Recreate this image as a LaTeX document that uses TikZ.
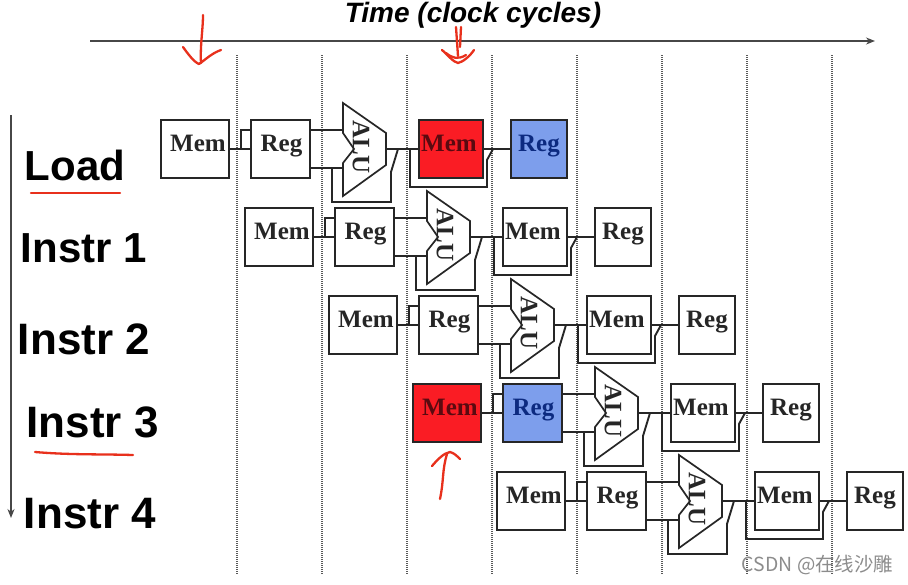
\documentclass[tikz,border=0pt]{standalone}
\usepackage{fontspec}
\setmainfont{Liberation Serif}
\newfontfamily\armfont{Liberation Sans}
\newfontfamily\cjkfont{Noto Sans CJK SC}
\usetikzlibrary{arrows.meta}
\definecolor{hot}{HTML}{FA1C24}
\definecolor{hotink}{HTML}{5A0A10}
\definecolor{cool}{HTML}{7D9EEC}
\definecolor{coolink}{HTML}{0C2A80}
\definecolor{ink}{HTML}{262626}
\definecolor{pen}{HTML}{E8301C}
\tikzset{
  box/.style={draw=ink,line width=2pt,inner sep=0pt,minimum height=58pt},
  lab/.style={font=\bfseries\fontsize{25}{25}\selectfont,yshift=6pt,xshift=#1,text height=17pt,text depth=0pt,inner sep=0pt},
  plainmemA/.style={box,fill=white,minimum width=68pt,label={[lab=3pt,text=ink]center:Mem}},
  hotmemA/.style={box,fill=hot,minimum width=68pt,label={[lab=3pt,text=hotink]center:Mem}},
  plainmemB/.style={box,fill=white,minimum width=64pt,label={[lab=-2pt,text=ink]center:Mem}},
  hotmemB/.style={box,fill=hot,minimum width=64pt,label={[lab=-2pt,text=hotink]center:Mem}},
  plainregA/.style={box,fill=white,minimum width=59pt,label={[lab=1pt,text=ink]center:Reg}},
  coolregA/.style={box,fill=cool,minimum width=59pt,label={[lab=1pt,text=coolink]center:Reg}},
  plainregB/.style={box,fill=white,minimum width=56pt,label={[lab=0pt,text=ink]center:Reg}},
  coolregB/.style={box,fill=cool,minimum width=56pt,label={[lab=0pt,text=coolink]center:Reg}},
  wire/.style={draw=ink,line width=1.9pt,line join=miter},
  alushape/.style={draw=ink,line width=1.7pt,fill=white,line join=miter},
  alutext/.style={font=\bfseries\fontsize{25}{25}\selectfont,rotate=-90,text=ink,inner sep=0pt},
  grid/.style={draw=black!65,line width=1.5pt,dash pattern=on 1pt off 1pt},
  rowname/.style={font=\armfont\bfseries\fontsize{#1}{#1}\selectfont,anchor=base,text=black,inner sep=0pt},
  redpen/.style={draw=pen,line width=2.3pt,line cap=round,line join=round},
  axis/.style={draw=ink!85,line width=1.4pt,-{Stealth[length=9pt,width=7pt]}}
}
\begin{document}
\begin{tikzpicture}[x=1pt,y=-1pt]
\useasboundingbox (0,0) rectangle (908,584);
\fill[white] (0,0) rectangle (908,584);
% clock-cycle separators
\foreach \k in {237,322,407,492,577,662,747,832}
  \draw[grid] (\k,55) -- (\k,575);
% axes
\coordinate (ts) at (90,41);
\coordinate (te) at (875,41);
\draw[axis] (ts) -- (te);
\coordinate (is) at (11,115);
\coordinate (ie) at (11,518);
\draw[axis] (is) -- (ie);
\node[font=\armfont\bfseries\itshape\fontsize{28}{28}\selectfont,text=black,inner sep=0pt,anchor=base] (timelabel) at (473,22) {Time (clock cycles)};
% row names
\node[rowname=42] (nload) at (75,180) {Load};
\node[rowname=42] (none) at (84,262) {Instr 1};
\node[rowname=44] (ntwo) at (84,354) {Instr 2};
\node[rowname=44] (nthree) at (92.5,437) {Instr 3};
\node[rowname=44] (nfour) at (90,528) {Instr 4};
% pipeline rows
\foreach \i/\ma/\ra/\mb/\rb in {
  0/plainmemA/plainregA/hotmemB/coolregB,
  1/plainmemA/plainregA/plainmemB/plainregB,
  2/plainmemA/plainregA/plainmemB/plainregB,
  3/hotmemA/coolregA/plainmemB/plainregB,
  4/plainmemA/plainregA/plainmemB/plainregB}{
\begin{scope}[shift={(84*\i,88*\i)}]
  \coordinate (pa\i) at (343,130);
  \coordinate (pb\i) at (343,168);
  \coordinate (po\i) at (386,149);
  % feedback wires lie under the boxes
  \draw[wire] (332,168) -- (332,202) -- (391,202) -- (391,172) -- (398,149);
  \draw[wire] (410,149) -- (410,187) -- (487,187) -- (487,160) -- (493,149);
  \draw[wire] (241,149) -- (241,130) -- (251,130);
  \node[\ma] (ma\i) at (195,149) {};
  \node[\ra] (ra\i) at (280.5,149) {};
  \node[\mb] (mb\i) at (451,149) {};
  \node[\rb] (rb\i) at (539,149) {};
  \draw[wire] (ma\i.east) -- (ra\i.west);
  \draw[wire] ([yshift=19pt]ra\i.east) -- (pa\i);
  \draw[wire] ([yshift=-19pt]ra\i.east) -- (pb\i);
  \draw[wire] (po\i) -- (mb\i.west);
  \draw[wire] (mb\i.east) -- (rb\i.west);
  \draw[alushape] (343,103) -- (386,133) -- (386,165) -- (343,196) -- (343,163) -- (354,149) -- (343,133) -- cycle;
  \node[alutext] (alu\i) at (361,147) {ALU};
\end{scope}
}
% hand-drawn marks
\draw[redpen] (203,15) .. controls (203,30) and (200,45) .. (201,63);
\draw[redpen] (183,47) .. controls (188,54) and (194,62) .. (199,64) .. controls (205,60) and (212,53) .. (221,50);
\draw[redpen] (456,27) -- (458,56);
\draw[redpen] (461,27) -- (460,47);
\draw[redpen] (442,50) .. controls (448,55) and (453,62) .. (458,63) .. controls (463,62) and (470,56) .. (474,50);
\draw[redpen] (446,53) .. controls (452,58) and (458,60) .. (466,55);
\draw[redpen] (440,499) .. controls (444,480) and (442,470) .. (447,454);
\draw[redpen] (432,466) .. controls (438,459) and (444,453) .. (450,452) .. controls (454,453) and (457,456) .. (460,459);
\draw[redpen] (31,193) -- (120,193);
\draw[redpen] (35,452) .. controls (70,455) and (100,454) .. (133,455);
% watermark
\node[font=\cjkfont\fontsize{19.4}{19.4}\selectfont,text=black!45,inner sep=0pt] (mark) at (817.5,565) {CSDN @在线沙雕};
\end{tikzpicture}
\end{document}
